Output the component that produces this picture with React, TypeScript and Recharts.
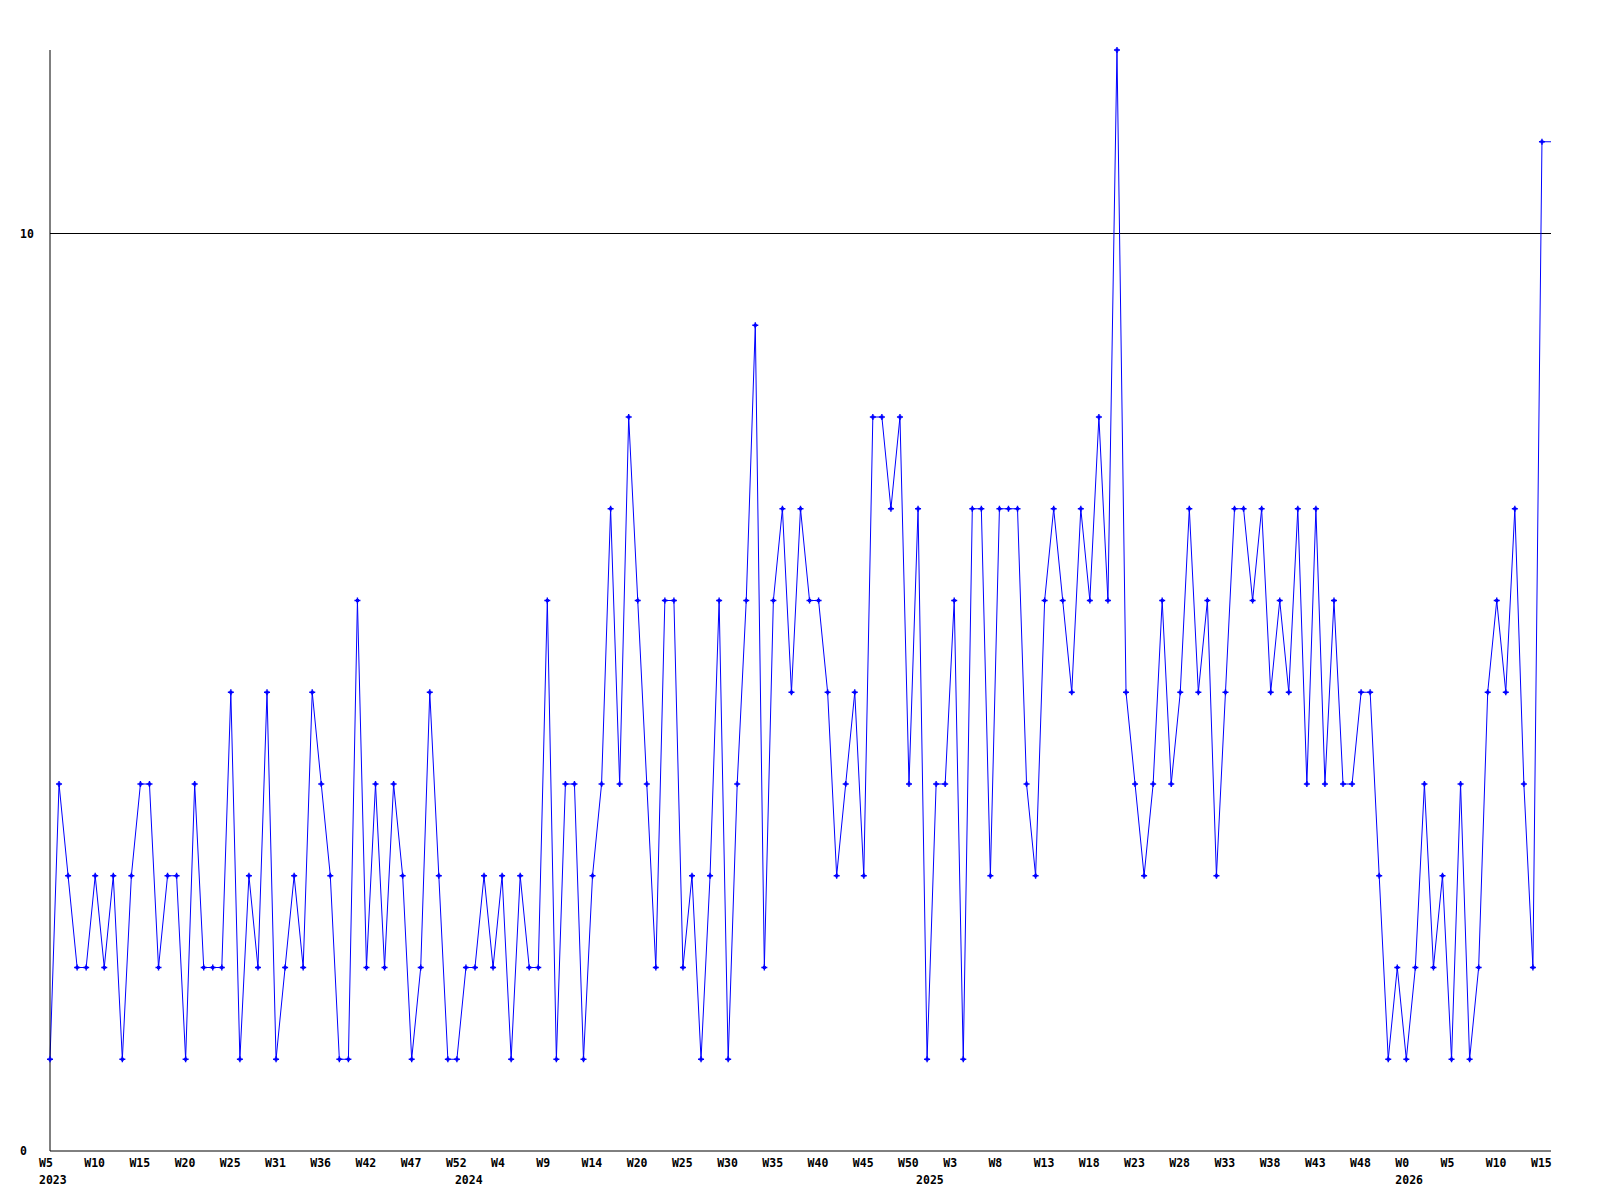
import { LineChart, Line, XAxis, YAxis, ReferenceLine } from "recharts";

// weekly counts, split per calendar year (last 2026 value is the running week)
const values2023 = [
  1, 4, 3, 2, 2, 3, 2, 3, 1, 3, 4, 4, 2, 3, 3, 1, 4, 2, 2, 2, 5, 1, 3, 2, 5, 1,
  2, 3, 2, 5, 4, 3, 1, 1, 6, 2, 4, 2, 4, 3, 1, 2, 5, 3, 1, 1,
];
const values2024 = [
  2, 2, 3, 2, 3, 1, 3, 2, 2, 6, 1, 4, 4, 1, 3, 4, 7, 4, 8, 6, 4, 2, 6, 6, 2, 3,
  1, 3, 6, 1, 4, 6, 9, 2, 6, 7, 5, 7, 6, 6, 5, 3, 4, 5, 3, 8, 8, 7, 8, 4, 7,
];
const values2025 = [
  1, 4, 4, 6, 1, 7, 7, 3, 7, 7, 7, 4, 3, 6, 7, 6, 5, 7, 6, 8, 6, 12, 5, 4, 3, 4,
  6, 4, 5, 7, 5, 6, 3, 5, 7, 7, 6, 7, 5, 6, 5, 7, 4, 7, 4, 6, 4, 4, 5, 5, 3, 1, 2,
];
const values2026 = [1, 2, 4, 2, 3, 1, 4, 1, 2, 5, 6, 5, 7, 4, 2, 11, 11];

const years = ["2023", "2024", "2025", "2026"];

// one label every 5th point
const weekLabels = [
  "W5", "W10", "W15", "W20", "W25", "W31", "W36", "W42", "W47", "W52",
  "W4", "W9", "W14", "W20", "W25", "W30", "W35", "W40", "W45", "W50",
  "W3", "W8", "W13", "W18", "W23", "W28", "W33", "W38", "W43", "W48",
  "W0", "W5", "W10", "W15",
];

const yTicks = [0, 10];
const THRESHOLD = 10;

const yearSeries = [values2023, values2024, values2025, values2026];
const allValues = yearSeries.flat();

// index of first point of each year
const yearStart: Record<number, string> = {};
let acc = 0;
yearSeries.forEach((arr, k) => {
  yearStart[acc] = years[k];
  acc += arr.length;
});

const weekAt: Record<number, string> = {};
weekLabels.forEach((w, k) => {
  weekAt[k * 5] = w;
});

const data = allValues.map((v, i) => ({ i, v }));
const lastIdx = data.length - 1;
const xTicks = Array.from(
  new Set([...Object.keys(weekAt), ...Object.keys(yearStart)].map(Number)),
).sort((a, b) => a - b);

const FONT = "'DejaVu Sans Mono', monospace";
const BLUE = "#0000ff";

function XTick(props: any) {
  const { x, y, payload } = props;
  const idx = Number(payload.value);
  return (
    <g>
      {weekAt[idx] ? (
        <text x={x - 11} y={y + 16} fontFamily={FONT} fontWeight="bold" fontSize={11.5} fill="#000" textAnchor="start">
          {weekAt[idx]}
        </text>
      ) : null}
      {yearStart[idx] ? (
        <text x={x - 11} y={y + 33} fontFamily={FONT} fontWeight="bold" fontSize={11.5} fill="#000" textAnchor="start">
          {yearStart[idx]}
        </text>
      ) : null}
    </g>
  );
}

function YTick(props: any) {
  const { x, y, payload } = props;
  return (
    <text x={x - 30} y={y + 4} fontFamily={FONT} fontWeight="bold" fontSize={11.5} fill="#000" textAnchor="start">
      {payload.value}
    </text>
  );
}

function Marker(props: any) {
  const { cx, cy, index } = props;
  if (index === lastIdx || cx == null || cy == null) return <g key={`m${index}`} />;
  return (
    <g key={`m${index}`}>
      <path d={`M${cx - 3},${cy}h6M${cx},${cy - 3}v6`} stroke={BLUE} strokeWidth={1.4} />
      <rect x={cx - 1.5} y={cy - 1.5} width={3} height={3} fill={BLUE} />
    </g>
  );
}

export default function App() {
  return (
    <div style={{ position: "absolute", left: 0, top: 0, width: 1600, height: 1200, background: "#fff" }}>
      <LineChart width={1600} height={1200} data={data} margin={{ top: 50, right: 49, bottom: 0, left: 0 }}>
        <XAxis
          dataKey="i"
          type="number"
          domain={[0, lastIdx]}
          ticks={xTicks}
          interval={0}
          height={49}
          tickSize={0}
          tickMargin={0}
          tickLine={false}
          axisLine={{ stroke: "#000", strokeWidth: 1 }}
          tick={<XTick />}
        />
        <YAxis
          type="number"
          domain={[0, 12]}
          ticks={yTicks}
          width={50}
          tickSize={0}
          tickMargin={0}
          tickLine={false}
          axisLine={{ stroke: "#000", strokeWidth: 1 }}
          tick={<YTick />}
        />
        <ReferenceLine y={THRESHOLD} stroke="#000" strokeWidth={1} />
        <Line
          type="linear"
          dataKey="v"
          stroke={BLUE}
          strokeWidth={1}
          dot={Marker}
          activeDot={false}
          isAnimationActive={false}
        />
      </LineChart>
    </div>
  );
}
